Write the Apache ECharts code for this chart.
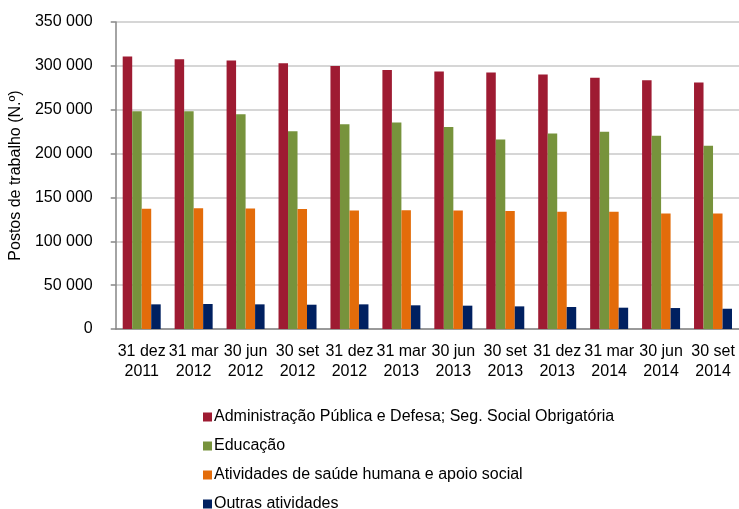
<!DOCTYPE html>
<html>
<head>
<meta charset="utf-8">
<script src="https://cdn.jsdelivr.net/npm/echarts@6/dist/echarts.min.js"></script>
<style>
  html, body { margin: 0; padding: 0; background: #fff; }
  #chart { width: 739px; height: 509px; }
</style>
</head>
<body>
<div id="chart"></div>
<script>
const categories = ['31 dez\n2011', '31 mar\n2012', '30 jun\n2012', '30 set\n2012', '31 dez\n2012', '31 mar\n2013',
  '30 jun\n2013', '30 set\n2013', '31 dez\n2013', '31 mar\n2014', '30 jun\n2014', '30 set\n2014']
const seriesNames = ['Administração Pública e Defesa; Seg. Social Obrigatória', 'Educação',
  'Atividades de saúde humana e apoio social', 'Outras atividades']
const adminValues = [310600, 307500, 306000, 303000, 299900, 295400, 293500, 292400, 290100, 286300, 283600, 281000]
const educValues = [248300, 248300, 244900, 225500, 233500, 235400, 230400, 216000, 222900, 224800, 220200, 208800]
const healthValues = [137000, 137800, 137300, 136700, 135200, 135500, 135200, 134400, 133600, 133600, 131800, 131800]
const otherValues = [28100, 28500, 28100, 27700, 28100, 27000, 26600, 25800, 25100, 24300, 23900, 23100]
const colors = ['#9E1B32', '#77933C', '#E36C0A', '#002060']

const font = 'Liberation Sans, Arial, sans-serif'
const chart = echarts.init(document.getElementById('chart'))
const allValues = [adminValues, educValues, healthValues, otherValues]

chart.setOption({
  animation: false,
  grid: { left: 111, right: 0, top: 22, bottom: 180, containLabel: false },
  legend: {
    orient: 'vertical',
    left: 198,
    top: 403,
    height: 120,
    itemWidth: 9,
    itemHeight: 9,
    itemGap: 11,
    icon: 'rect',
    textStyle: { fontFamily: font, fontSize: 16, color: '#000', lineHeight: 18, padding: [0, 0, 0, -3] },
    data: seriesNames
  },
  xAxis: {
    type: 'category',
    data: categories,
    axisLine: { lineStyle: { color: '#868686', width: 1.5 } },
    axisTick: { length: 5, lineStyle: { color: '#868686', width: 1.5 } },
    axisLabel: { fontFamily: font, fontSize: 16, color: '#000', lineHeight: 20, margin: 13, interval: 0 }
  },
  yAxis: {
    type: 'value',
    min: 0,
    max: 350000,
    interval: 50000,
    name: 'Postos de trabalho (N.º)',
    nameLocation: 'middle',
    nameGap: 86,
    nameTextStyle: { fontFamily: font, fontSize: 16, color: '#000' },
    axisLine: { show: true, lineStyle: { color: '#868686', width: 1.5 } },
    axisTick: { show: true, length: 5, inside: false, lineStyle: { color: '#868686', width: 1.5 } },
    splitLine: { lineStyle: { color: '#C8C8C8', width: 1.5 } },
    axisLabel: {
      fontFamily: font, fontSize: 16, color: '#000', margin: 23,
      formatter: v => String(v).replace(/\B(?=(\d{3})+(?!\d))/g, ' ')
    }
  },
  series: seriesNames.map((name, i) => ({
    name: name,
    type: 'bar',
    data: allValues[i],
    barWidth: 9.5,
    barGap: '0%',
    itemStyle: { color: colors[i] }
  }))
})
</script>
</body>
</html>
